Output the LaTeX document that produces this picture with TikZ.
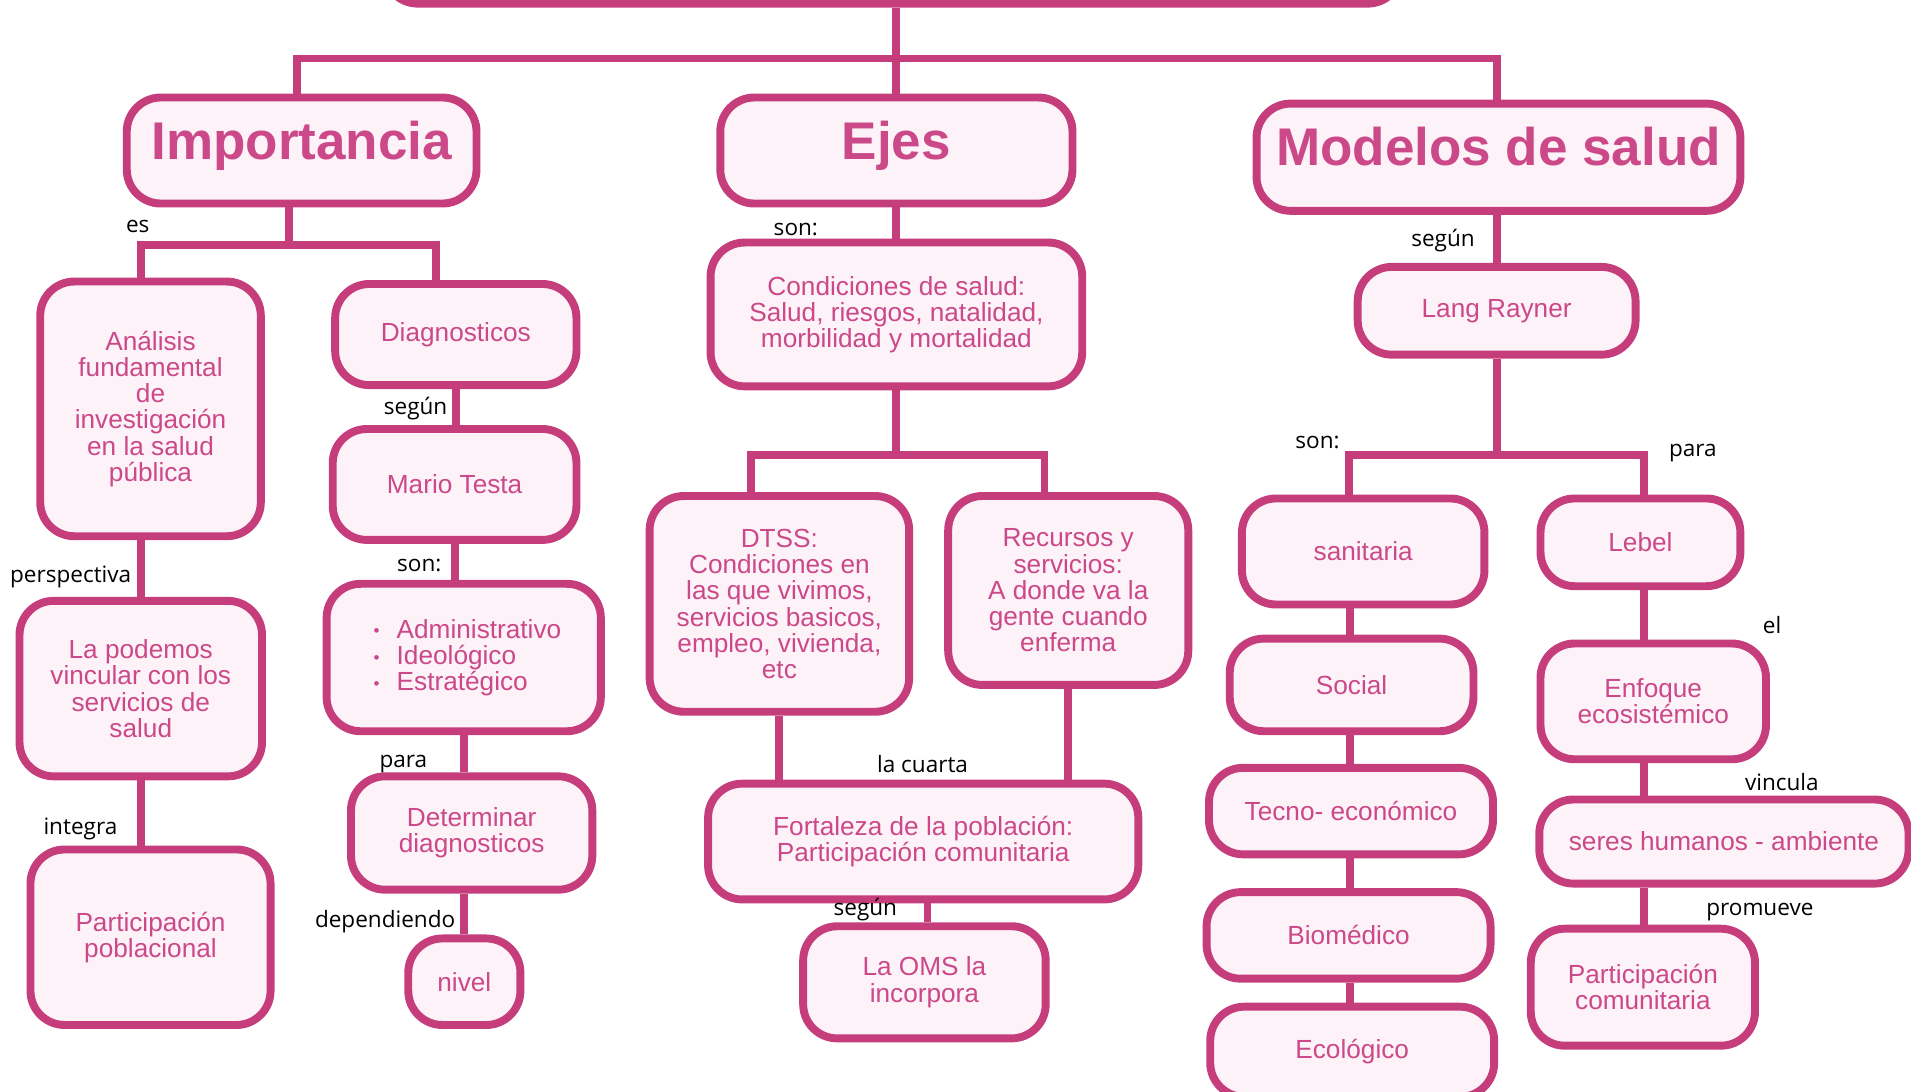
\documentclass[tikz,border=0pt]{standalone}
\usepackage{fontspec}
\setmainfont{Liberation Sans}
\newfontfamily\labfont{Open Sans}
\definecolor{pk}{RGB}{198,61,124}
\definecolor{pkfill}{RGB}{253,242,248}
\definecolor{pktext}{RGB}{203,72,137}
\newcommand\bul{\makebox[19pt][l]{\raisebox{1pt}{\fontsize{14}{14}\selectfont •}}}
\newcommand\ttl[1]{\raisebox{0pt}[31pt][17pt]{#1}}
\begin{document}
\begin{tikzpicture}[x=1pt,y=-1pt,
  box/.style={draw=pk, fill=pkfill, line width=6.5pt, rounded corners=28pt, text=pktext,
    align=center, inner sep=0pt, font=\fontsize{21.5}{21.5}\selectfont},
  titlebox/.style={box, font=\fontsize{43.5}{43.5}\selectfont\bfseries},
  conn/.style={draw=pk, line width=6.5pt},
  lab/.style={font=\labfont\fontsize{18.5}{18.5}\selectfont, text=black, inner sep=0pt}]
\useasboundingbox (0,0) rectangle (1568,896);
\clip (0,0) rectangle (1568,896);
% ---------- coordinates for junctions
\coordinate (b0l) at (244,48);
\coordinate (b0r) at (1228,48);
\coordinate (b1l) at (116,201);
\coordinate (b1r) at (358,201);
\coordinate (j1) at (237,201);
\coordinate (b2l) at (616,373);
\coordinate (b2r) at (857,373);
\coordinate (b3l) at (1107,373);
\coordinate (b3r) at (1349,373);
\coordinate (cx) at (1108,0);
\coordinate (cy) at (1349,0);
\coordinate (cz) at (761,0);
% ---------- boxes
\node[box, minimum width=835pt, minimum height=66pt] (top) at (732.5,-30) {};
\node[titlebox, minimum width=287pt, minimum height=87pt] (imp) at (247.5,123.5) {\ttl{Importancia}};
\node[titlebox, minimum width=289pt, minimum height=87pt] (ejes) at (735.5,123.5) {\ttl{Ejes}};
\node[titlebox, minimum width=397pt, minimum height=88pt] (mod) at (1229.5,129) {\ttl{Modelos de salud}};

\node[box, minimum width=181pt, minimum height=209pt] (ana) at (123.5,335.5) {Análisis\\fundamental\\de\\investigación\\en la salud\\pública};
\node[box, minimum width=198pt, minimum height=83pt] (diag) at (374,274.5) {Diagnosticos};
\node[box, minimum width=200pt, minimum height=91pt] (mario) at (373,397.5) {Mario Testa};
\node[box, minimum width=225pt, minimum height=121pt, align=left] (list) at (380.5,539.5) {\hspace*{6pt}\bul Administrativo\\\hspace*{6pt}\bul Ideológico\\\hspace*{6pt}\bul Estratégico};
\node[box, minimum width=198pt, minimum height=93pt] (det) at (387,683.5) {Determinar\\diagnosticos};
\node[box, minimum width=92pt, minimum height=71pt] (nivel) at (381,805.5) {nivel};
\node[box, minimum width=199pt, minimum height=144pt] (pod) at (115.5,565) {La podemos\\vincular con los\\servicios de\\salud};
\node[box, minimum width=197pt, minimum height=144pt] (part) at (123.5,769) {Participación\\poblacional};

\node[box, minimum width=305pt, minimum height=118pt] (cond) at (735.5,258) {Condiciones de salud:\\Salud, riesgos, natalidad,\\morbilidad y mortalidad};
\node[box, minimum width=213pt, minimum height=177pt] (dtss) at (639.5,495.5) {DTSS:\\Condiciones en\\las que vivimos,\\servicios basicos,\\empleo, vivienda,\\etc};
\node[box, minimum width=197pt, minimum height=155pt] (rec) at (876.5,484.5) {Recursos y\\servicios:\\A donde va la\\gente cuando\\enferma};
\node[box, minimum width=353pt, minimum height=95pt] (fort) at (757.5,690.5) {Fortaleza de la población:\\Participación comunitaria};
\node[box, minimum width=199pt, minimum height=92pt] (oms) at (758.5,806) {La OMS la\\incorpora};

\node[box, minimum width=228pt, minimum height=72pt] (lang) at (1228,255) {Lang Rayner};
\node[box, minimum width=199pt, minimum height=87pt] (san) at (1118.5,452.5) {sanitaria};
\node[box, minimum width=200pt, minimum height=76pt] (soc) at (1109,562) {Social};
\node[box, minimum width=233pt, minimum height=71pt] (tec) at (1108.5,665.5) {Tecno- económico};
\node[box, minimum width=233pt, minimum height=71pt] (bio) at (1106.5,767.5) {Biomédico};
\node[box, minimum width=233pt, minimum height=74pt] (eco) at (1109.5,863) {Ecológico};
\node[box, minimum width=164pt, minimum height=72pt] (lebel) at (1346,445) {Lebel};
\node[box, minimum width=185pt, minimum height=95pt] (enf) at (1356.5,575.5) {Enfoque\\ecosistémico};
\node[box, minimum width=303pt, minimum height=69pt] (seres) at (1414.5,690.5) {seres humanos - ambiente};
\node[box, minimum width=184pt, minimum height=96pt] (pc) at (1348,810) {Participación\\comunitaria};

% ---------- connectors
\draw[conn] (top.south -| ejes.north) -- (ejes.north);
\draw[conn] (imp.north -| b0l) -- (b0l) -- (b0r) -- (mod.north -| b0r);
\draw[conn] (imp.south -| j1) -- (j1);
\draw[conn] (ana.north -| b1l) -- (b1l) -- (b1r) -- (diag.north -| b1r);
\draw[conn] (diag.south) -- (diag.south |- mario.north);
\draw[conn] (mario.south) -- (mario.south |- list.north);
\draw[conn] (list.south) -- (list.south |- det.north);
\draw[conn] (nivel.north |- det.south) -- (nivel.north);
\draw[conn] (pod.north |- ana.south) -- (pod.north);
\draw[conn] (pod.south) -- (pod.south |- part.north);

\draw[conn] (ejes.south) -- (cond.north);
\draw[conn] (cond.south) -- (cond.south |- b2l);
\draw[conn] (dtss.north -| b2l) -- (b2l) -- (b2r) -- (rec.north -| b2r);
\draw[conn] (dtss.south) -- (dtss.south |- fort.north);
\draw[conn] (rec.south) -- (rec.south |- fort.north);
\draw[conn] (fort.south -| cz) -- (oms.north -| cz);

\draw[conn] (mod.south -| lang.north) -- (lang.north);
\draw[conn] (lang.south) -- (lang.south |- b3l);
\draw[conn] (san.north -| b3l) -- (b3l) -- (b3r) -- (lebel.north -| b3r);
\draw[conn] (san.south -| cx) -- (soc.north -| cx);
\draw[conn] (soc.south -| cx) -- (tec.north -| cx);
\draw[conn] (tec.south -| cx) -- (bio.north -| cx);
\draw[conn] (bio.south -| cx) -- (eco.north -| cx);
\draw[conn] (lebel.south -| cy) -- (enf.north -| cy);
\draw[conn] (enf.south -| cy) -- (seres.north -| cy);
\draw[conn] (seres.south -| cy) -- (pc.north -| cy);

% ---------- labels
\node[lab] (l1) at (113,186) {es};
\node[lab] (l2) at (653,188) {son:};
\node[lab] (l3) at (1184,197) {según};
\node[lab] (l4) at (341,335) {según};
\node[lab] (l5) at (344,464) {son:};
\node[lab] (l6) at (331,627) {para};
\node[lab] (l7) at (316,756) {dependiendo};
\node[lab] (l8) at (58,473) {perspectiva};
\node[lab] (l9) at (66,680) {integra};
\node[lab] (l10) at (757,627) {la cuarta};
\node[lab] (l11) at (710,746) {según};
\node[lab] (l12) at (1081,363) {son:};
\node[lab] (l13) at (1389,372) {para};
\node[lab] (l14) at (1454,513) {el};
\node[lab] (l15) at (1462,642) {vincula};
\node[lab] (l16) at (1444,748) {promueve};
\end{tikzpicture}
\end{document}
